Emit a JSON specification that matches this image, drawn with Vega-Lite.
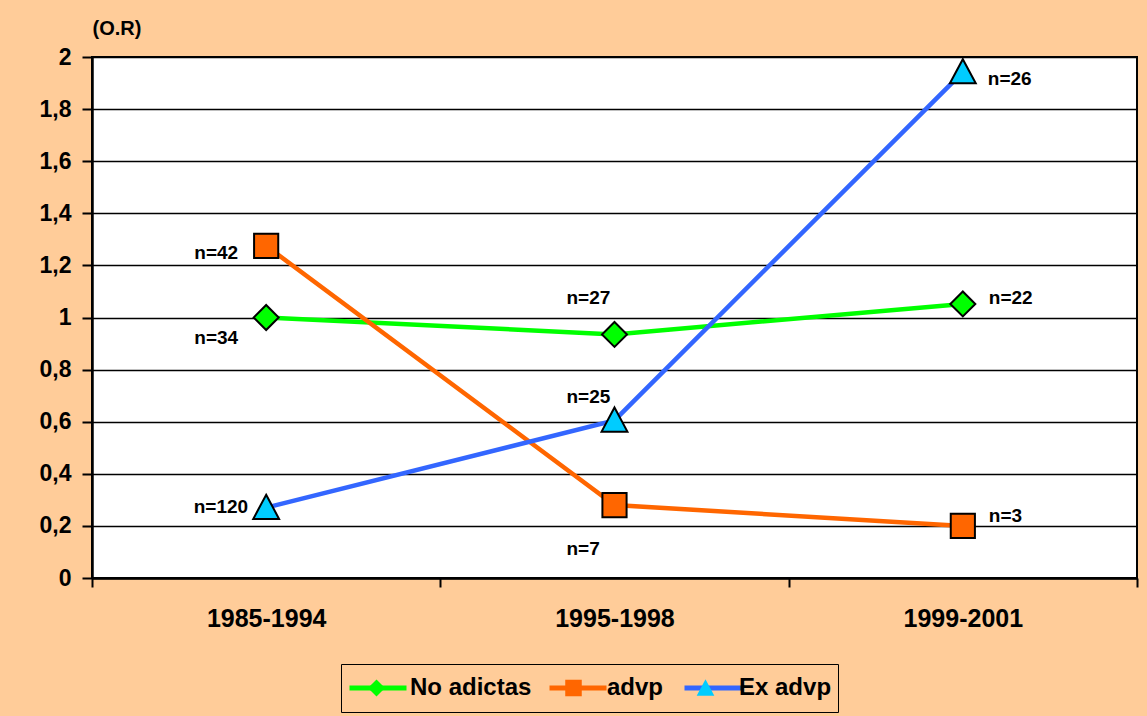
{
  "$schema": "https://vega.github.io/schema/vega-lite/v6.json",
  "width": 1045,
  "height": 521,
  "autosize": "none",
  "padding": {"left": 92, "top": 57, "right": 10, "bottom": 138},
  "background": "#FFCC99",
  "config": {
    "view": {"stroke": "black", "strokeWidth": 2, "fill": "white"},
    "font": "Liberation Sans",
    "text": {"fontSize": 19, "fontWeight": "bold", "font": "Liberation Sans", "color": "black", "baseline": "middle"}
  },
  "data": {
    "values": [
      {"period": "1985-1994", "series": "No adictas", "value": 1.0, "label": "n=34"},
      {"period": "1995-1998", "series": "No adictas", "value": 0.935, "label": "n=27"},
      {"period": "1999-2001", "series": "No adictas", "value": 1.052, "label": "n=22"},
      {"period": "1985-1994", "series": "advp", "value": 1.275, "label": "n=42"},
      {"period": "1995-1998", "series": "advp", "value": 0.28, "label": "n=7"},
      {"period": "1999-2001", "series": "advp", "value": 0.2, "label": "n=3"},
      {"period": "1985-1994", "series": "Ex advp", "value": 0.27, "label": "n=120"},
      {"period": "1995-1998", "series": "Ex advp", "value": 0.605, "label": "n=25"},
      {"period": "1999-2001", "series": "Ex advp", "value": 1.942, "label": "n=26"}
    ]
  },
  "encoding": {
    "x": {
      "field": "period",
      "type": "ordinal",
      "scale": {"type": "band", "paddingInner": 0, "paddingOuter": 0},
      "axis": {
        "title": null,
        "labelAngle": 0,
        "tickBand": "extent",
        "tickSize": 9,
        "tickColor": "black",
        "tickWidth": 2,
        "domainColor": "black",
        "domainWidth": 2.5,
        "labelFont": "Liberation Sans",
        "labelFontSize": 25,
        "labelFontWeight": "bold",
        "labelColor": "black",
        "labelPadding": 19
      }
    },
    "y": {
      "field": "value",
      "type": "quantitative",
      "scale": {"domain": [0, 2], "nice": false, "zero": true},
      "axis": {
        "values": [0, 0.2, 0.4, 0.6, 0.8, 1, 1.2, 1.4, 1.6, 1.8, 2],
        "format": ".1~f",
        "labelExpr": "replace(datum.label, '.', ',')",
        "title": "(O.R)",
        "titleAngle": 0,
        "titleX": 0,
        "titleY": -29,
        "titleAlign": "left",
        "titleBaseline": "middle",
        "titleFont": "Liberation Sans",
        "titleFontSize": 20,
        "titleFontWeight": "bold",
        "titleColor": "black",
        "grid": true,
        "gridColor": "black",
        "gridWidth": 1.5,
        "gridOpacity": 1,
        "tickSize": 10,
        "tickColor": "black",
        "tickWidth": 2,
        "domainColor": "black",
        "domainWidth": 2.5,
        "labelFont": "Liberation Sans",
        "labelFontSize": 23,
        "labelFontWeight": "bold",
        "labelColor": "black",
        "labelPadding": 11
      }
    }
  },
  "layer": [
    {
      "mark": {"type": "line", "strokeWidth": 4.5},
      "encoding": {
        "stroke": {
          "field": "series",
          "type": "nominal",
          "sort": ["No adictas", "advp", "Ex advp"],
          "scale": {"range": ["#00FF00", "#FF6600", "#3366FF"]},
          "legend": {
            "title": null,
            "orient": "none",
            "direction": "horizontal",
            "legendX": 249,
            "legendY": 607,
            "symbolType": "stroke",
            "symbolSize": 3249,
            "symbolStrokeWidth": 5,
            "clipHeight": 36,
            "labelOpacity": 0,
            "labelFont": "Liberation Sans",
            "labelFontSize": 24,
            "labelFontWeight": "bold",
            "labelOffset": 4,
            "columnPadding": 12,
            "padding": 6,
            "encode": {"labels": {"update": {"dy": {"value": -27}}}}
          }
        }
      }
    },
    {
      "mark": {"type": "point", "filled": true, "size": 6944, "stroke": "black", "strokeWidth": 2, "opacity": 1},
      "encoding": {
        "fill": {
          "field": "series",
          "type": "nominal",
          "scale": {"domain": ["No adictas", "advp", "Ex advp"], "range": ["#00FF00", "#FF6600", "#00CCFF"]},
          "legend": {
            "title": null,
            "orient": "none",
            "direction": "horizontal",
            "legendX": 249,
            "legendY": 607,
            "symbolSize": 3249,
            "symbolStrokeColor": "black",
            "symbolStrokeWidth": 2,
            "symbolOpacity": 1,
            "clipHeight": 36,
            "labelFont": "Liberation Sans",
            "labelFontSize": 24,
            "labelFontWeight": "bold",
            "labelColor": "black",
            "labelOffset": 4,
            "columnPadding": 12,
            "padding": 6,
            "strokeColor": "black"
          }
        },
        "shape": {
          "field": "series",
          "type": "nominal",
          "scale": {
            "domain": ["No adictas", "advp", "Ex advp"],
            "range": [
              "M0,-0.3L0.3,0L0,0.3L-0.3,0Z",
              "M-0.29,-0.29L0.29,-0.29L0.29,0.29L-0.29,0.29Z",
              "M0,-0.31L0.31,0.27L-0.31,0.27Z"
            ]
          },
          "legend": {
            "title": null,
            "orient": "none",
            "direction": "horizontal",
            "legendX": 249,
            "legendY": 607,
            "symbolSize": 3249,
            "symbolStrokeColor": "black",
            "symbolStrokeWidth": 2,
            "clipHeight": 36,
            "labelFont": "Liberation Sans",
            "labelFontSize": 24,
            "labelFontWeight": "bold",
            "labelColor": "black",
            "labelOffset": 4,
            "columnPadding": 12,
            "padding": 6,
            "strokeColor": "black"
          }
        }
      }
    },
    {
      "transform": [{"filter": "datum.label == 'n=34'"}],
      "mark": {"type": "text", "align": "right", "dx": -28, "dy": 20},
      "encoding": {"text": {"field": "label"}}
    },
    {
      "transform": [{"filter": "datum.label == 'n=42'"}],
      "mark": {"type": "text", "align": "right", "dx": -28, "dy": 7},
      "encoding": {"text": {"field": "label"}}
    },
    {
      "transform": [{"filter": "datum.label == 'n=120'"}],
      "mark": {"type": "text", "align": "right", "dx": -18, "dy": -1},
      "encoding": {"text": {"field": "label"}}
    },
    {
      "transform": [{"filter": "datum.label == 'n=27'"}],
      "mark": {"type": "text", "align": "left", "dx": -48, "dy": -36},
      "encoding": {"text": {"field": "label"}}
    },
    {
      "transform": [{"filter": "datum.label == 'n=25'"}],
      "mark": {"type": "text", "align": "left", "dx": -48, "dy": -23},
      "encoding": {"text": {"field": "label"}}
    },
    {
      "transform": [{"filter": "datum.label == 'n=7'"}],
      "mark": {"type": "text", "align": "left", "dx": -48, "dy": 44},
      "encoding": {"text": {"field": "label"}}
    },
    {
      "transform": [{"filter": "datum.label == 'n=22'"}],
      "mark": {"type": "text", "align": "left", "dx": 26, "dy": -6},
      "encoding": {"text": {"field": "label"}}
    },
    {
      "transform": [{"filter": "datum.label == 'n=26'"}],
      "mark": {"type": "text", "align": "left", "dx": 25, "dy": 7},
      "encoding": {"text": {"field": "label"}}
    },
    {
      "transform": [{"filter": "datum.label == 'n=3'"}],
      "mark": {"type": "text", "align": "left", "dx": 26, "dy": -10},
      "encoding": {"text": {"field": "label"}}
    }
  ]
}
